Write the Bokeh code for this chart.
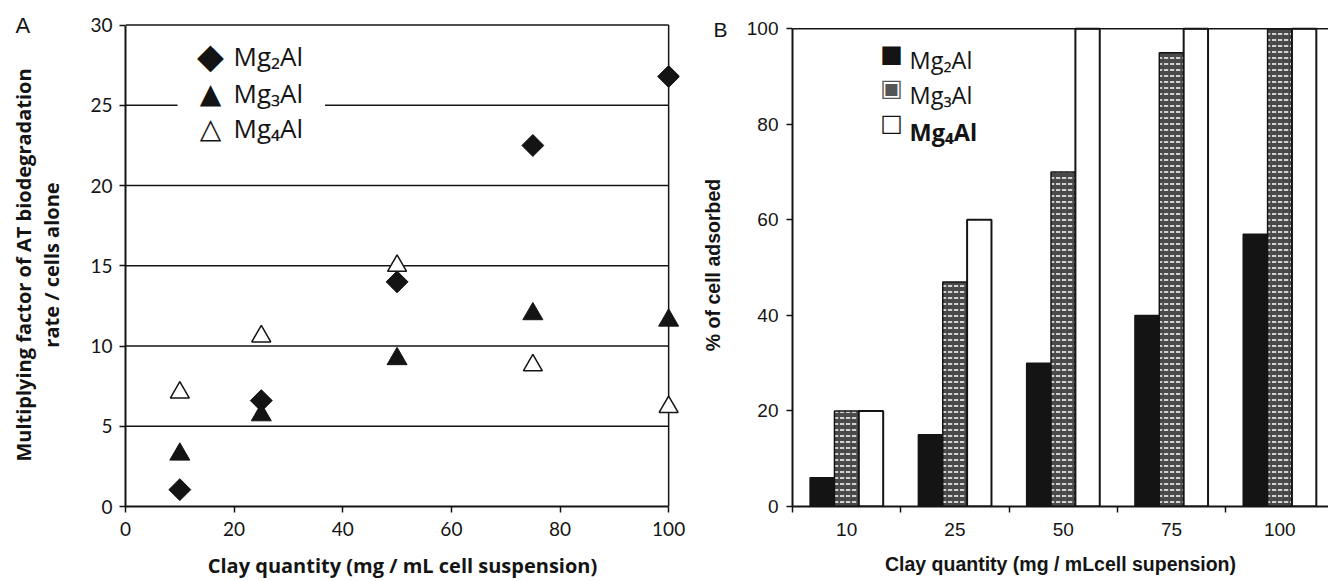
import numpy as np
from bokeh.plotting import figure
from bokeh.models import Range1d, FixedTicker, Label, Title, Span
from bokeh.models import ColumnDataSource
from bokeh.layouts import row
from bokeh.transform import dodge
from bokeh.embed import file_html
from bokeh.resources import INLINE

# ---------------- data ----------------
# Panel A: multiplying factor vs clay quantity
clay_a = [10, 25, 50, 75, 100]
mg2al_a = [1.05, 6.6, 14.0, 22.5, 26.8]
mg3al_a = [3.25, 5.7, 9.2, 12.0, 11.6]
mg4al_a = [7.1, 10.6, 15.0, 8.8, 6.2]
x_ticks_a = [0, 20, 40, 60, 80, 100]
y_ticks_a = [0, 5, 10, 15, 20, 25, 30]

# Panel B: % of cells adsorbed
clay_b = ["10", "25", "50", "75", "100"]
mg2al_b = [6, 15, 30, 40, 57]
mg3al_b = [20, 47, 70, 95, 100]
mg4al_b = [20, 60, 100, 100, 100]
y_ticks_b = [0, 20, 40, 60, 80, 100]

series = ["Mg₂Al", "Mg₃Al", "Mg₄Al"]

INK = "#141414"
CAL = "Lato"
OPS = "Open Sans"
ARI = "Liberation Sans"

TOP, BOTTOM, H = 23, 74, 581

# ---------------- panel A ----------------
title_a = Title(text="A", align="left", offset=-110, standoff=-28, text_font=ARI,
                text_font_size="22px", text_font_style="normal", text_color=INK,
                text_line_height=0.5)
pa = figure(width=690, height=H, output_backend="svg", toolbar_location=None,
            title=title_a,
            x_range=Range1d(0, 102), y_range=Range1d(0, 30.1),
            min_border_left=125, min_border_right=11, min_border_top=TOP, min_border_bottom=BOTTOM)
pa.outline_line_color = None
pa.grid.visible = False

# horizontal grid lines and right frame line, limited to the axis extent
gy = y_ticks_a[1:]
pa.segment(x0=[x_ticks_a[0]] * len(gy), y0=gy, x1=[x_ticks_a[-1]] * len(gy), y1=gy,
           line_color=INK, line_width=1.5, level="underlay")
pa.segment(x0=[x_ticks_a[-1]], y0=[y_ticks_a[0]], x1=[x_ticks_a[-1]], y1=[y_ticks_a[-1]],
           line_color=INK, line_width=1.5, level="underlay")

pa.xaxis.ticker = FixedTicker(ticks=x_ticks_a)
pa.yaxis.ticker = FixedTicker(ticks=y_ticks_a)
pa.xaxis.bounds = (x_ticks_a[0], x_ticks_a[-1])
pa.yaxis.bounds = (y_ticks_a[0], y_ticks_a[-1])
for ax in (pa.xaxis, pa.yaxis):
    ax.axis_line_color = INK
    ax.axis_line_width = 2
    ax.major_tick_line_color = INK
    ax.major_tick_line_width = 1.5
    ax.major_tick_in = 0
    ax.major_tick_out = 6
    ax.minor_tick_line_color = None
    ax.major_label_text_font = CAL
    ax.major_label_text_font_size = "19px"
    ax.major_label_text_color = INK
    ax.axis_label_text_font = OPS
    ax.axis_label_text_font_style = "bold"
    ax.axis_label_text_font_size = "20px"
    ax.axis_label_text_color = INK
pa.xaxis.major_label_standoff = 9
pa.yaxis.major_label_standoff = 7
pa.xaxis.axis_label = "Clay quantity (mg / mL cell suspension)"
pa.xaxis.axis_label_standoff = 13
pa.yaxis.axis_label = "Multiplying factor of AT biodegradation\nrate / cells alone"
pa.yaxis.axis_label_text_line_height = 1.05
pa.yaxis.axis_label_standoff = 22

pa.scatter(clay_a, mg2al_a, marker="square", angle=np.pi / 4, size=15.5,
           fill_color=INK, line_color=INK)
pa.scatter(clay_a, mg3al_a, marker="triangle", size=20,
           fill_color=INK, line_color=INK)
pa.scatter(clay_a, mg4al_a, marker="triangle", size=19,
           fill_color="white", line_color=INK, line_width=1.5)

# legend A (pasted text box), positions relative to the frame (left=125, bottom=507 px)
A_L, A_B = 125, H - BOTTOM
def a_xy(px, py):
    return px - A_L, A_B - py

rows_a = [56.5, 93.5, 128.5]
syms_a = ["◆", "▲", "△"]
sym_sz = ["35px", "28px", "28px"]
bx, by = a_xy(177, rows_a[1])
pa.add_layout(Label(x=bx, y=by, x_units="screen", y_units="screen", text=series[1],
                    text_font=OPS, text_font_size="26px", text_color=INK,
                    text_baseline="middle", text_align="left",
                    background_fill_color="white",
                    padding=dict(left=56, right=22, top=6, bottom=6)))
for i, (yy, s) in enumerate(zip(rows_a, syms_a)):
    sx, sy = a_xy(210, yy)
    pa.add_layout(Label(x=sx, y=sy, x_units="screen", y_units="screen", text=s,
                        text_font="DejaVu Sans", text_font_size=sym_sz[i], text_color=INK,
                        text_baseline="middle", text_align="center"))
    if i != 1:
        tx, ty = a_xy(233, yy)
        pa.add_layout(Label(x=tx, y=ty, x_units="screen", y_units="screen", text=series[i],
                            text_font=OPS, text_font_size="26px", text_color=INK,
                            text_baseline="middle", text_align="left"))

# ---------------- panel B ----------------
BAR_W = 0.225
xb = [i + 0.5 for i in range(len(clay_b))]
src = ColumnDataSource(dict(x=xb, mg2=mg2al_b, mg3=mg3al_b, mg4=mg4al_b))

title_b = Title(text="B", align="left", offset=-79, standoff=-34, text_font=ARI,
                text_font_size="21px", text_font_style="normal", text_color=INK,
                text_line_height=0.5)
pb = figure(width=638, height=H, output_backend="svg", toolbar_location=None,
            title=title_b,
            x_range=Range1d(0, 4.95), y_range=Range1d(0, 101.1),
            min_border_left=102, min_border_right=0, min_border_top=TOP, min_border_bottom=BOTTOM)
pb.outline_line_color = None
pb.grid.visible = False

pb.vbar(x=dodge("x", -BAR_W, range=pb.x_range), top="mg2", width=BAR_W, source=src,
        fill_color=INK, line_color=INK, line_width=1.5)
pb.vbar(x="x", top="mg3", width=BAR_W, source=src,
        fill_color="#4a4a4a", hatch_pattern="horizontal_dash", hatch_color="white",
        hatch_scale=6, hatch_weight=1.5, line_color=INK, line_width=1.5)
pb.vbar(x=dodge("x", BAR_W, range=pb.x_range), top="mg4", width=BAR_W, source=src,
        fill_color="white", line_color=INK, line_width=2)

# top frame line at the axis maximum
pb.add_layout(Span(location=y_ticks_b[-1], dimension="width", line_color=INK, line_width=1.5))

pb.xaxis.ticker = FixedTicker(ticks=xb, minor_ticks=list(range(len(clay_b) + 1)))
pb.xaxis.major_label_overrides = {x: c for x, c in zip(xb, clay_b)}
pb.yaxis.ticker = FixedTicker(ticks=y_ticks_b)
pb.yaxis.bounds = (y_ticks_b[0], y_ticks_b[-1])
for ax in (pb.xaxis, pb.yaxis):
    ax.axis_line_color = INK
    ax.axis_line_width = 2
    ax.major_tick_line_color = INK
    ax.major_tick_line_width = 1.5
    ax.major_tick_in = 0
    ax.major_tick_out = 6
    ax.major_label_text_font = ARI
    ax.major_label_text_font_size = "19px"
    ax.major_label_text_color = INK
    ax.axis_label_text_font = ARI
    ax.axis_label_text_font_style = "bold"
    ax.axis_label_text_font_size = "19.5px"
    ax.axis_label_text_color = INK
pb.xaxis.major_tick_out = 0
pb.xaxis.minor_tick_line_color = INK
pb.xaxis.minor_tick_line_width = 1.5
pb.xaxis.minor_tick_in = 0
pb.xaxis.minor_tick_out = 6
pb.yaxis.minor_tick_line_color = None
pb.xaxis.major_label_standoff = 10
pb.yaxis.major_label_standoff = 8
pb.xaxis.axis_label = "Clay quantity (mg / mLcell supension)"
pb.xaxis.axis_label_standoff = 14
pb.yaxis.axis_label = "% of cell adsorbed"
pb.yaxis.axis_label_standoff = 20

B_L, B_B = 792, H - BOTTOM
def b_xy(px, py):
    return px - B_L, B_B - py

rows_b = [54, 88.5, 123.5]
rows_bt = [60.5, 95.5, 132]
syms_b = ["■", "▣", "□"]
sym_col = [INK, "#555555", INK]
for i, s in enumerate(syms_b):
    sx, sy = b_xy(891, rows_b[i])
    pb.add_layout(Label(x=sx, y=sy, x_units="screen", y_units="screen", text=s,
                        text_font="DejaVu Sans", text_font_size="24px", text_color=sym_col[i],
                        text_baseline="middle", text_align="center"))
    tx, ty = b_xy(909, rows_bt[i])
    pb.add_layout(Label(x=tx, y=ty, x_units="screen", y_units="screen", text=series[i],
                        text_font=OPS, text_font_size="23.5px", text_color=INK,
                        text_font_style="bold" if i == 2 else "normal",
                        text_baseline="middle", text_align="left"))

layout = row(pa, pb)
open("out.html", "w").write(file_html(layout, INLINE))
